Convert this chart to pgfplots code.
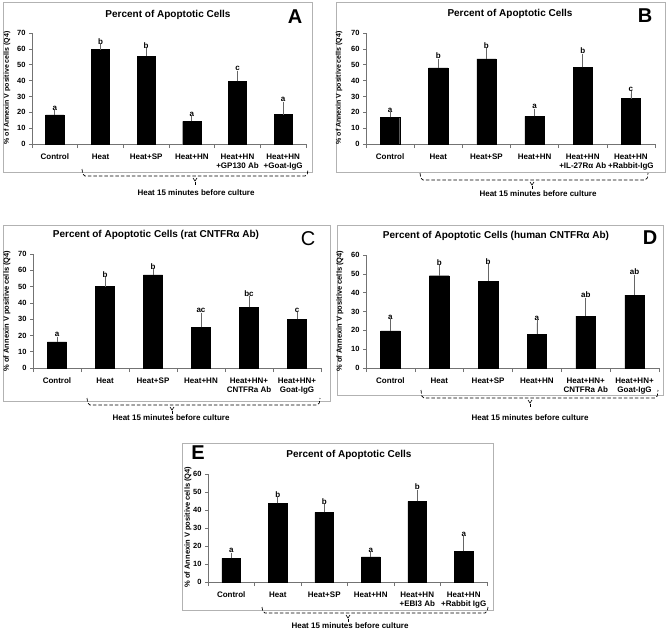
\documentclass[border=0pt]{standalone}
\usepackage{fontspec}
\setmainfont{Liberation Sans}
\usepackage{pgfplots}
\usepackage{pgfplotstable}
\pgfplotsset{compat=1.18}

% one table per panel: x position, mean, error (+), significance letter
\pgfplotstableread{
x y e l
0 18.3 1.5 a
1 59.5 2.0 b
2 55.5 3.3 b
3 14.3 1.6 a
4 39.5 5.2 c
5 18.5 6.7 a
}\tA
\pgfplotstableread{
x y e l
0 16.8 1.8 a
1 48.0 4.2 b
2 53.7 5.3 b
3 17.5 3.3 a
4 48.4 7.1 b
5 28.6 3.0 c
}\tB
\pgfplotstableread{
x y e l
0 16.1 1.6 a
1 50.0 4.1 b
2 57.2 2.1 b
3 24.9 7.6 ac
4 37.3 5.5 bc
5 29.9 3.0 c
}\tC
\pgfplotstableread{
x y e l
0 19.7 4.8 a
1 49.0 4.3 b
2 46.2 7.6 b
3 17.9 6.1 a
4 27.5 8.5 ab
5 38.7 9.6 ab
}\tD
\pgfplotstableread{
x y e l
0 13.1 1.9 a
1 43.7 2.0 b
2 38.7 3.0 b
3 13.9 1.5 a
4 44.8 5.2 b
5 17.0 6.9 a
}\tE

\pgfplotsset{
  panel/.style={
    scale only axis, anchor=south west, clip=false,
    axis x line*=bottom, axis y line*=left,
    xmin=-0.5, xmax=5.5, ymin=0,
    ytick distance=10,
    xtick={0,...,5},
    minor xtick={-0.5,0.5,...,5.5},
    tick align=outside,
    major x tick style={draw=none},
    major tick length=3pt, minor tick length=4pt,
    axis line style={black!55, line width=0.7pt},
    tick style={black!55, line width=0.6pt},
    tick label style={font=\fontsize{8}{9}\selectfont\bfseries},
    yticklabel style={font=\fontsize{7.5}{9}\selectfont\bfseries},
    xticklabel style={align=center, yshift=-3pt},
    /pgf/number format/assume math mode=true,
  },
  bars/.style={ybar, bar width=0.4, fill=black, draw=black,
    error bars/y dir=plus, error bars/y explicit,
    error bars/error bar style={black!60, line width=0.7pt},
    error bars/error mark options={black!60, line width=0.7pt, mark size=2.5pt}},
  letters/.style={draw=none, mark=none, nodes near coords,
    point meta=explicit symbolic,
    nodes near coords style={text=black, font=\fontsize{8}{9}\selectfont\bfseries,
      anchor=south, inner sep=2pt}},
}

% dashed bracket under a panel: left x, right x, line y, top of end ticks, notch x
\newcommand{\brk}[5]{%
  \draw[dash pattern=on 3.5pt off 2pt, line width=0.7pt, rounded corners=2pt]
    (#1pt,-#4pt) -- (#1pt+1pt,-#3pt) -- (#2pt-1pt,-#3pt) -- (#2pt,-#4pt);
  \draw[line width=0.6pt] (#5pt-2pt,-#3pt-2pt) -- (#5pt,-#3pt-5pt) -- (#5pt+2pt,-#3pt-2pt);
  \draw[line width=0.6pt] (#5pt,-#3pt-6pt) -- (#5pt,-#3pt-9pt);
}
\tikzset{
  ttl/.style={font=\fontsize{10}{12}\selectfont\bfseries},
  bigl/.style={font=\fontsize{20}{24}\selectfont\bfseries},
  yl/.style={rotate=90, font=\fontsize{#1}{9}\selectfont\bfseries},
  captxt/.style={font=\fontsize{8}{9}\selectfont\bfseries},
  frm/.style={draw=black!30, line width=0.8pt},
}

\begin{document}
\begin{tikzpicture}
\fill[white] (0pt,0pt) rectangle (666pt,-633pt);

% ---------- A ----------
\begin{axis}[panel, at={(32pt,-144pt)}, width=274pt, height=111pt, ymax=70,
  xticklabels={Control,Heat,Heat+SP,Heat+HN,{Heat+HN\\+GP130 Ab},{Heat+HN\\+Goat-IgG}}]
\addplot[bars] table[x=x, y=y, y error=e] {\tA};
\addplot[letters] table[x=x, y expr=\thisrow{y}+\thisrow{e}, meta=l] {\tA};
\end{axis}
\draw[frm] (3pt,-2pt) rectangle (312pt,-172pt);
\node[ttl] at (168pt,-15pt) {Percent of Apoptotic Cells};
\node[bigl] at (295pt,-17pt) {A};
\node[yl=7] at (7pt,-88pt) {\% of Annexin V positive cells (Q4)};
\brk{82}{308}{176}{169}{195}
\node[captxt] at (196pt,-193pt) {Heat 15 minutes before culture};

% ---------- B ----------
\begin{axis}[panel, at={(366pt,-144pt)}, width=289pt, height=111pt, ymax=70,
  xticklabels={Control,Heat,Heat+SP,Heat+HN,{Heat+HN\\+IL-27Rα Ab},{Heat+HN\\+Rabbit-IgG}}]
\addplot[bars] table[x=x, y=y, y error=e] {\tB};
\addplot[letters] table[x=x, y expr=\thisrow{y}+\thisrow{e}, meta=l] {\tB};
\end{axis}
\draw[frm] (336pt,-2pt) rectangle (665pt,-172pt);
\node[ttl] at (510pt,-14pt) {Percent of Apoptotic Cells};
\node[bigl] at (645pt,-16pt) {B};
\node[yl=7] at (339pt,-88pt) {\% of Annexin V positive cells (Q4)};
\brk{420}{648}{180}{173}{532}
\node[captxt] at (538pt,-194pt) {Heat 15 minutes before culture};

% ---------- C ----------
\begin{axis}[panel, at={(33pt,-368pt)}, width=288pt, height=114pt, ymax=70,
  xticklabels={Control,Heat,Heat+SP,Heat+HN,{Heat+HN+\\CNTFRa Ab},{Heat+HN+\\Goat-IgG}}]
\addplot[bars] table[x=x, y=y, y error=e] {\tC};
\addplot[letters] table[x=x, y expr=\thisrow{y}+\thisrow{e}, meta=l] {\tC};
\end{axis}
\draw[frm] (3pt,-225pt) rectangle (330pt,-401pt);
\node[ttl] at (156pt,-235pt) {Percent of Apoptotic Cells (rat CNTFRα Ab)};
\node[font=\fontsize{20}{24}\selectfont] at (308pt,-239pt) {C};
\node[yl=7.5] at (7pt,-311pt) {\% of Annexin V positive cells (Q4)};
\brk{87}{320}{405}{398}{172}
\node[captxt] at (171pt,-418pt) {Heat 15 minutes before culture};

% ---------- D ----------
\begin{axis}[panel, at={(366pt,-368pt)}, width=293pt, height=113pt, ymax=60,
  xticklabels={Control,Heat,Heat+SP,Heat+HN,{Heat+HN+\\CNTFRa Ab},{Heat+HN+\\Goat-IgG}}]
\addplot[bars] table[x=x, y=y, y error=e] {\tD};
\addplot[letters] table[x=x, y expr=\thisrow{y}+\thisrow{e}, meta=l] {\tD};
\end{axis}
\draw[frm] (337pt,-225pt) rectangle (663pt,-395pt);
\node[ttl] at (496pt,-236pt) {Percent of Apoptotic Cells (human CNTFRα Ab)};
\node[bigl] at (650pt,-238pt) {D};
\node[yl=7.5] at (340pt,-311pt) {\% of Annexin V positive cells (Q4)};
\brk{421}{658}{398}{390}{530}
\node[captxt] at (530pt,-418pt) {Heat 15 minutes before culture};

% ---------- E ----------
\begin{axis}[panel, at={(208pt,-582pt)}, width=279pt, height=108pt, ymax=60,
  xticklabels={Control,Heat,Heat+SP,Heat+HN,{Heat+HN\\+EBI3 Ab},{Heat+HN\\+Rabbit IgG}}]
\addplot[bars] table[x=x, y=y, y error=e] {\tE};
\addplot[letters] table[x=x, y expr=\thisrow{y}+\thisrow{e}, meta=l] {\tE};
\end{axis}
\draw[frm] (182pt,-443pt) rectangle (493pt,-610pt);
\node[ttl] at (349pt,-455pt) {Percent of Apoptotic Cells};
\node[bigl] at (198pt,-453pt) {E};
\node[yl=7.5] at (188pt,-527pt) {\% of Annexin V positive cells (Q4)};
\brk{262}{488}{613}{607}{348}
\node[captxt] at (350pt,-626pt) {Heat 15 minutes before culture};

\pgfresetboundingbox
\path[use as bounding box] (0pt,0pt) rectangle (666pt,-633pt);
\end{tikzpicture}
\end{document}
